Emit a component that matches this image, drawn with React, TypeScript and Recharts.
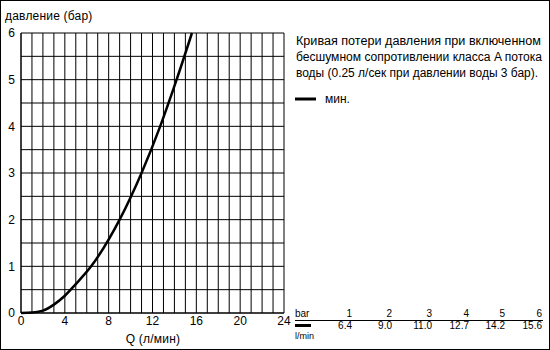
import React from 'react';
import { LineChart, Line, XAxis, YAxis, CartesianGrid } from 'recharts';

// Pressure table: bar -> flow (l/min)
const TABLE_BAR = [1, 2, 3, 4, 5, 6];
const TABLE_FLOW = [6.4, 9.0, 11.0, 12.7, 14.2, 15.6];

// Start of the curve, below 1 bar
const LOW_FLOW = [0, 1, 2, 3, 4, 5];
const LOW_BAR = [0, 0.01, 0.05, 0.18, 0.37, 0.62];

const X_TICKS = Array.from({ length: 25 }, (_, i) => i);
const Y_TICKS = Array.from({ length: 13 }, (_, i) => i / 2);

const NOTE_LINES = [
  'Кривая потери давления при включенном',
  'бесшумном сопротивлении класса A потока',
  'воды (0.25 л/сек при давлении воды 3 бар).',
];
const NOTE_WIDTHS = [245, 246, 242];

const TABLE_COLS = [352, 392, 432, 469, 505, 542];

const curve = [
  ...LOW_FLOW.map((q, i) => ({ q, p: LOW_BAR[i] })),
  ...TABLE_FLOW.map((q, i) => ({ q, p: TABLE_BAR[i] })),
];

const FONT = '"Liberation Sans", Arial, sans-serif';
const tickStyle = { fill: '#000', fontSize: 12, fontFamily: FONT };

const App: React.FC = () => {
  return (
    <div style={{ position: 'absolute', left: 0, top: 0, width: 550, height: 350, fontFamily: FONT }}>
      <LineChart
        width={550}
        height={350}
        data={curve}
        margin={{ top: 33, right: 266, bottom: 0, left: 0 }}
      >
        <CartesianGrid stroke="#000" strokeWidth={1} />
        <XAxis
          dataKey="q"
          type="number"
          domain={[0, 24]}
          ticks={X_TICKS}
          interval={0}
          height={37}
          tickLine={false}
          tickSize={0}
          tickMargin={3}
          axisLine={{ stroke: '#000' }}
          tickFormatter={(v: number) => (v % 4 === 0 ? String(v) : '')}
          tick={tickStyle}
        />
        <YAxis
          type="number"
          domain={[0, 6]}
          ticks={Y_TICKS}
          interval={0}
          width={21}
          tickLine={false}
          tickSize={0}
          tickMargin={6}
          axisLine={{ stroke: '#000' }}
          tickFormatter={(v: number) => (Number.isInteger(v) ? String(v) : '')}
          tick={tickStyle}
        />
        <Line
          dataKey="p"
          type="monotone"
          stroke="#000"
          strokeWidth={2.5}
          dot={false}
          isAnimationActive={false}
        />
      </LineChart>

      <svg
        width={550}
        height={350}
        style={{ position: 'absolute', left: 0, top: 0, pointerEvents: 'none' }}
        fontFamily={FONT}
      >
        <rect x={0.5} y={0.5} width={549} height={349} fill="none" stroke="#000" />
        <text x={5} y={20} fontSize={12} letterSpacing={0.2}>давление (бар)</text>
        <text x={153} y={343} fontSize={12} letterSpacing={0.2} textAnchor="middle">Q (л/мин)</text>

        {NOTE_LINES.map((line, i) => (
          <text
            key={i}
            x={296}
            y={45 + i * 16}
            fontSize={12}
            textLength={NOTE_WIDTHS[i]}
            lengthAdjust="spacingAndGlyphs"
          >
            {line}
          </text>
        ))}
        <line x1={295} x2={316} y1={99} y2={99} stroke="#000" strokeWidth={3} />
        <text x={325} y={103} fontSize={12}>мин.</text>

        <text x={295} y={317} fontSize={10}>bar</text>
        {TABLE_BAR.map((b, i) => (
          <text key={b} x={TABLE_COLS[i]} y={317} fontSize={10} textAnchor="end">{b}</text>
        ))}
        <line x1={295} x2={543} y1={320.5} y2={320.5} stroke="#000" />
        <line x1={295} x2={311} y1={325.5} y2={325.5} stroke="#000" strokeWidth={3} />
        {TABLE_FLOW.map((f, i) => (
          <text key={i} x={TABLE_COLS[i]} y={329} fontSize={10} textAnchor="end">{f.toFixed(1)}</text>
        ))}
        <text x={295} y={339} fontSize={9}>l/min</text>
      </svg>
    </div>
  );
};

export default App;
